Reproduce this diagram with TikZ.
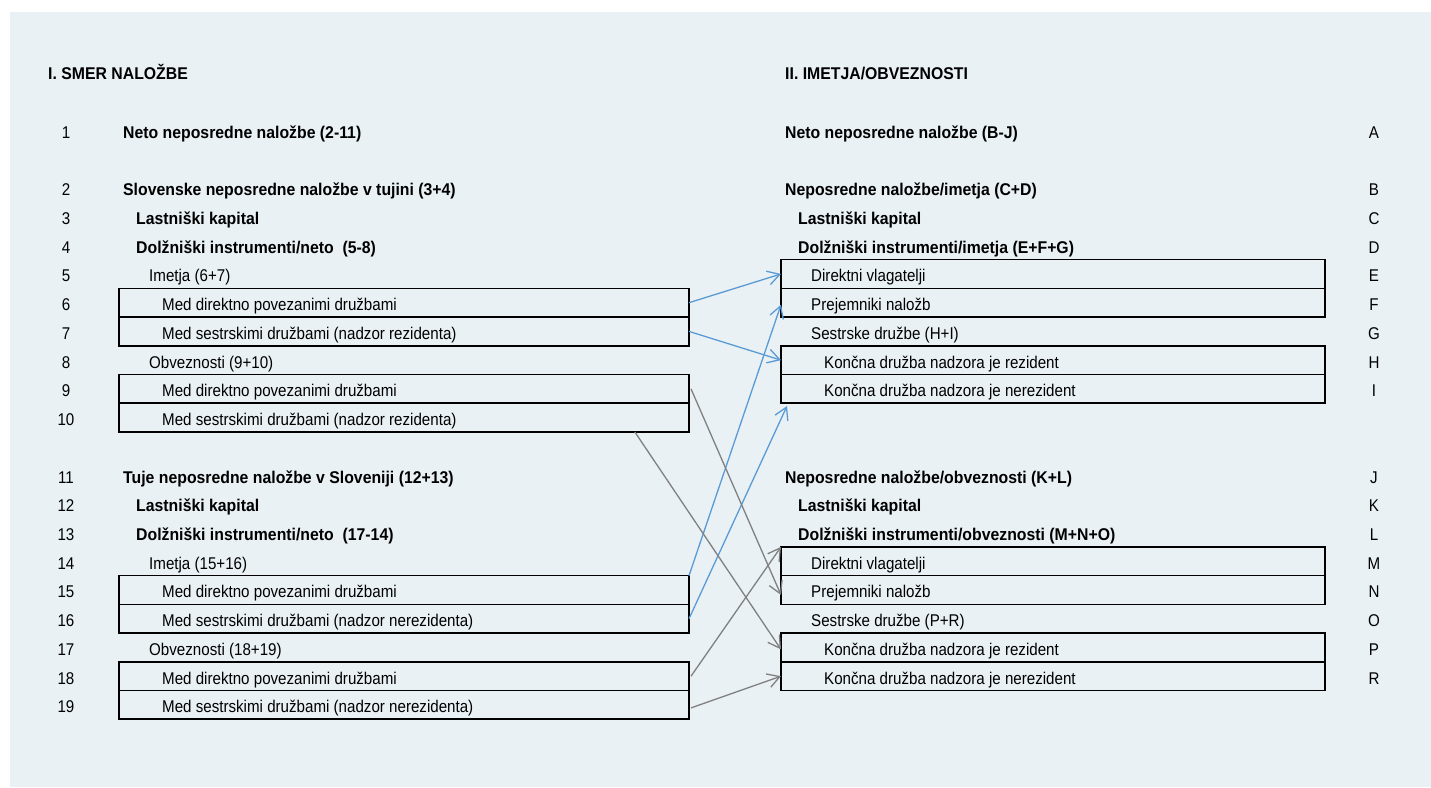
\documentclass[tikz,border=0pt]{standalone}
\usepackage{fontspec}
\setmainfont{Liberation Sans}[FakeStretch=0.89]
\newfontfamily\bfam{Liberation Sans}[FakeStretch=0.93]
\usetikzlibrary{arrows.meta,calc}
\definecolor{bgc}{RGB}{233,241,245}
\definecolor{arrblue}{RGB}{91,155,213}
\definecolor{arrgray}{RGB}{128,128,128}
\begin{document}
\begin{tikzpicture}[x=1pt,y=-1pt,
  every node/.style={font=\fontsize{17}{20}\selectfont},
  txt/.style={anchor=base west,inner sep=0pt},
  btxt/.style={txt,font=\fontsize{17}{20}\bfam\bfseries},
  num/.style={anchor=base,inner sep=0pt},
  lbox/.style={draw,line width=1.6pt,minimum width=570pt,minimum height=28.73pt,inner sep=0pt,outer sep=0pt},
  rbox/.style={draw,line width=1.6pt,minimum width=544pt,minimum height=28.73pt,inner sep=0pt,outer sep=0pt},
  link/.style={line width=1.3pt,-{Straight Barb[length=12pt,width=14pt]}},
  bluelink/.style={link,draw=arrblue},
  graylink/.style={link,draw=arrgray}]
\useasboundingbox (0,0) rectangle (1431,787);
\fill[bgc] (10,12) rectangle (1431,787);

% left boxes
\node[lbox] (L6)  at (404,302.68) {};
\node[lbox] (L7)  at (404,331.41) {};
\node[lbox] (L9)  at (404,388.87) {};
\node[lbox] (L10) at (404,417.60) {};
\node[lbox] (L15) at (404,589.98) {};
\node[lbox] (L16) at (404,618.71) {};
\node[lbox] (L18) at (404,676.17) {};
\node[lbox] (L19) at (404,704.90) {};
% right boxes
\node[rbox] (bE) at (1053,273.95) {};
\node[rbox] (bF) at (1053,302.68) {};
\node[rbox] (bH) at (1053,360.14) {};
\node[rbox] (bI) at (1053,388.87) {};
\node[rbox] (bM) at (1053,561.25) {};
\node[rbox] (bN) at (1053,589.98) {};
\node[rbox] (bP) at (1053,647.44) {};
\node[rbox] (bR) at (1053,676.17) {};

% headers
\node[btxt] (hL) at (48,79) {I. SMER NALOŽBE};
\node[btxt] (hR) at (785,79) {II. IMETJA/OBVEZNOSTI};

% left numbers
\node[num] (n1)  at (66,138.30) {1};
\node[num] (n2)  at (66,195.76) {2};
\node[num] (n3)  at (66,224.49) {3};
\node[num] (n4)  at (66,253.22) {4};
\node[num] (n5)  at (66,281.95) {5};
\node[num] (n6)  at (66,310.68) {6};
\node[num] (n7)  at (66,339.41) {7};
\node[num] (n8)  at (66,368.14) {8};
\node[num] (n9)  at (66,396.87) {9};
\node[num] (n10) at (66,425.60) {10};
\node[num] (n11) at (66,483.06) {11};
\node[num] (n12) at (66,511.79) {12};
\node[num] (n13) at (66,540.52) {13};
\node[num] (n14) at (66,569.25) {14};
\node[num] (n15) at (66,597.98) {15};
\node[num] (n16) at (66,626.71) {16};
\node[num] (n17) at (66,655.44) {17};
\node[num] (n18) at (66,684.17) {18};
\node[num] (n19) at (66,712.90) {19};

% left texts
\node[btxt] (t1)  at (123,138.30) {Neto neposredne naložbe (2-11)};
\node[btxt] (t2)  at (123,195.76) {Slovenske neposredne naložbe v tujini (3+4)};
\node[btxt] (t3)  at (136,224.49) {Lastniški kapital};
\node[btxt] (t4)  at (136,253.22) {Dolžniški instrumenti/neto\ \ (5-8)};
\node[txt]  (t5)  at (149,281.95) {Imetja (6+7)};
\node[txt]  (t6)  at (162,310.68) {Med direktno povezanimi družbami};
\node[txt]  (t7)  at (162,339.41) {Med sestrskimi družbami (nadzor rezidenta)};
\node[txt]  (t8)  at (149,368.14) {Obveznosti (9+10)};
\node[txt]  (t9)  at (162,396.87) {Med direktno povezanimi družbami};
\node[txt]  (t10) at (162,425.60) {Med sestrskimi družbami (nadzor rezidenta)};
\node[btxt] (t11) at (123,483.06) {Tuje neposredne naložbe v Sloveniji (12+13)};
\node[btxt] (t12) at (136,511.79) {Lastniški kapital};
\node[btxt] (t13) at (136,540.52) {Dolžniški instrumenti/neto\ \ (17-14)};
\node[txt]  (t14) at (149,569.25) {Imetja (15+16)};
\node[txt]  (t15) at (162,597.98) {Med direktno povezanimi družbami};
\node[txt]  (t16) at (162,626.71) {Med sestrskimi družbami (nadzor nerezidenta)};
\node[txt]  (t17) at (149,655.44) {Obveznosti (18+19)};
\node[txt]  (t18) at (162,684.17) {Med direktno povezanimi družbami};
\node[txt]  (t19) at (162,712.90) {Med sestrskimi družbami (nadzor nerezidenta)};

% right texts
\node[btxt] (tA) at (785,138.30) {Neto neposredne naložbe (B-J)};
\node[btxt] (tB) at (785,195.76) {Neposredne naložbe/imetja (C+D)};
\node[btxt] (tC) at (798,224.49) {Lastniški kapital};
\node[btxt] (tD) at (798,253.22) {Dolžniški instrumenti/imetja (E+F+G)};
\node[txt]  (tE) at (811,281.95) {Direktni vlagatelji};
\node[txt]  (tF) at (811,310.68) {Prejemniki naložb};
\node[txt]  (tG) at (811,339.41) {Sestrske družbe (H+I)};
\node[txt]  (tH) at (824,368.14) {Končna družba nadzora je rezident};
\node[txt]  (tI) at (824,396.87) {Končna družba nadzora je nerezident};
\node[btxt] (tJ) at (785,483.06) {Neposredne naložbe/obveznosti (K+L)};
\node[btxt] (tK) at (798,511.79) {Lastniški kapital};
\node[btxt] (tL) at (798,540.52) {Dolžniški instrumenti/obveznosti (M+N+O)};
\node[txt]  (tM) at (811,569.25) {Direktni vlagatelji};
\node[txt]  (tN) at (811,597.98) {Prejemniki naložb};
\node[txt]  (tO) at (811,626.71) {Sestrske družbe (P+R)};
\node[txt]  (tP) at (824,655.44) {Končna družba nadzora je rezident};
\node[txt]  (tR) at (824,684.17) {Končna družba nadzora je nerezident};

% right letters
\node[num] (lA) at (1374,138.30) {A};
\node[num] (lB) at (1374,195.76) {B};
\node[num] (lC) at (1374,224.49) {C};
\node[num] (lD) at (1374,253.22) {D};
\node[num] (lE) at (1374,281.95) {E};
\node[num] (lF) at (1374,310.68) {F};
\node[num] (lG) at (1374,339.41) {G};
\node[num] (lH) at (1374,368.14) {H};
\node[num] (lI) at (1374,396.87) {I};
\node[num] (lJ) at (1374,483.06) {J};
\node[num] (lK) at (1374,511.79) {K};
\node[num] (lL) at (1374,540.52) {L};
\node[num] (lM) at (1374,569.25) {M};
\node[num] (lN) at (1374,597.98) {N};
\node[num] (lO) at (1374,626.71) {O};
\node[num] (lP) at (1374,655.44) {P};
\node[num] (lR) at (1374,684.17) {R};

% connectors
\coordinate (endI) at (787,406);
\draw[bluelink] (L6.east) -- (bE.west);
\draw[bluelink] (L7.east) -- (bH.west);
\draw[bluelink] (L15.north east) -- ([yshift=-2pt]bF.west);
\draw[bluelink] (L16.east) -- (endI);
\draw[graylink] ([xshift=2pt]L9.east) -- ([yshift=-5pt]bN.west);
\draw[graylink] ($(L10.south west)!0.905!(L10.south east)$) -- ([yshift=-2pt]bP.west);
\draw[graylink] ([xshift=2pt]L18.east) -- (bM.north west);
\draw[graylink] ([xshift=2pt,yshift=-3pt]L19.east) -- (bR.west);
\end{tikzpicture}
\end{document}
